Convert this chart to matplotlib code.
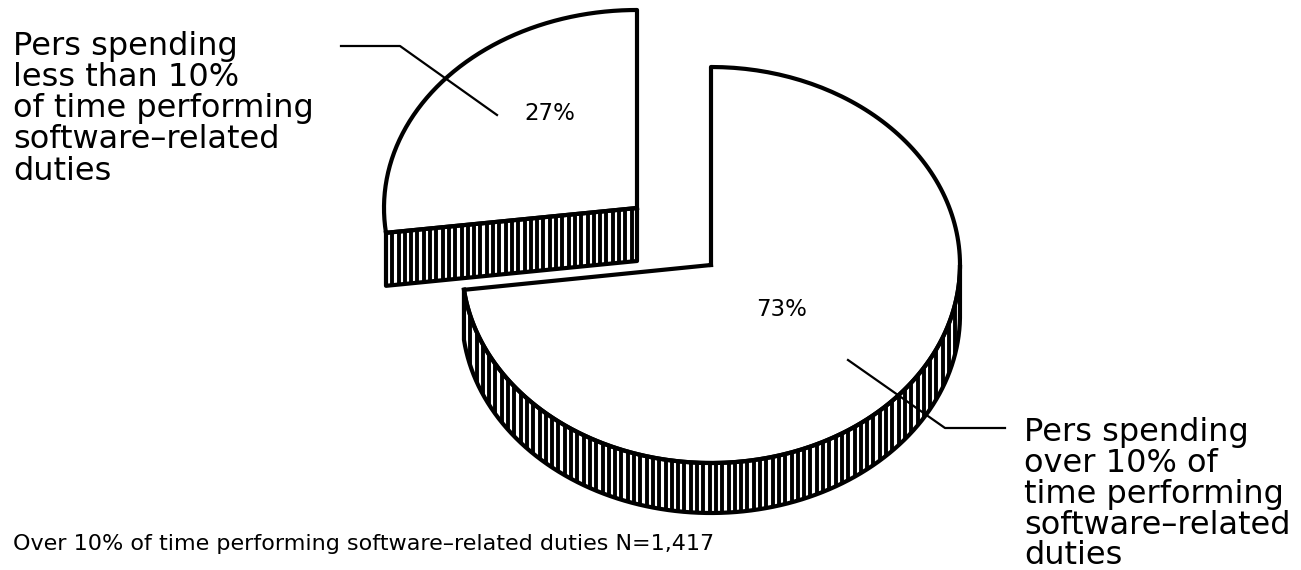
import numpy as np
import matplotlib
matplotlib.use("Agg")
import matplotlib.pyplot as plt

shares = [27, 73]
share_labels = ["27%", "73%"]
label_small = "Pers spending\nless than 10%\nof time performing\nsoftware\u2013related\nduties"
label_big = "Pers spending\nover 10% of\ntime performing\nsoftware\u2013related\nduties"
footer = "Over 10% of time performing software\u2013related duties N=1,417"

plt.rcParams['font.family'] = ['DejaVu Sans']

fig = plt.figure(figsize=(13.01, 5.7), dpi=100)
ax = fig.add_axes([0, 0, 1, 1])
ax.set_xlim(0, 1301)
ax.set_ylim(570, 0)
ax.axis('off')


def arc(cx, cy, rx, ry, t0, t1):
    t = np.radians(np.linspace(t0, t1, 200))
    return cx + rx*np.cos(t), cy - ry*np.sin(t)


def slice_3d(cx, cy, rx, ry, depth, t0, t1, wall_x, wall_y):
    # top of the slice, arc from t0 to t1 then back to the centre
    x, y = arc(cx, cy, rx, ry, t0, t1)
    top_x = np.r_[cx, x, cx]
    top_y = np.r_[cy, y, cy]
    ax.fill(top_x, top_y, fc='white', ec='none', zorder=2)

    band_x = np.r_[wall_x, wall_x[::-1]]
    band_y = np.r_[wall_y, wall_y[::-1] + depth]
    band = ax.fill(band_x, band_y, fc='white', ec='none', zorder=3)[0]
    for hx in np.arange(band_x.min(), band_x.max(), 6.3):
        ln = ax.plot([hx, hx], [band_y.min(), band_y.max()], color='black', lw=2.8, zorder=3)[0]
        ln.set_clip_path(band)
    ax.plot(np.r_[band_x, band_x[0]], np.r_[band_y, band_y[0]], color='black', lw=3.0, zorder=4,
            solid_joinstyle='round')
    ax.plot(top_x, top_y, color='black', lw=3.0, zorder=4, solid_joinstyle='round')


small_sweep = 360*shares[0]/sum(shares)
big_sweep = 360*shares[1]/sum(shares)

# small slice sits up and to the left, its wall is the straight cut
t0 = 90 + small_sweep
ex, ey = arc(637, 208, 253, 198, t0, t0)
slice_3d(637, 208, 253, 198, 53, t0, 90, np.r_[ex[0], 637], np.r_[ey[0], 208])

# big slice, wall follows the front of the rim
t1 = 90 - big_sweep
wx, wy = arc(711, 265, 249, 198, t1, 0)
slice_3d(711, 265, 249, 198, 50, 90, t1, wx, wy)

# leader lines
ax.plot([341, 400, 497], [46, 46, 115], color='black', lw=1.6, zorder=5)
ax.plot([848, 945, 1005], [360, 428, 428], color='black', lw=1.6, zorder=5)

txt = dict(color='black', fontsize=23, va='center', ha='left', linespacing=1.0, zorder=6)
ax.text(13, 109, label_small, **txt)
ax.text(1024, 494, label_big, **txt)
ax.text(524, 113, share_labels[0], color='black', fontsize=16.5, va='center', ha='left', zorder=6)
ax.text(756, 309, share_labels[1], color='black', fontsize=16.5, va='center', ha='left', zorder=6)
ax.text(13, 544, footer, color='black', fontsize=16, va='center', ha='left')

fig.savefig("out.png", dpi=100)
